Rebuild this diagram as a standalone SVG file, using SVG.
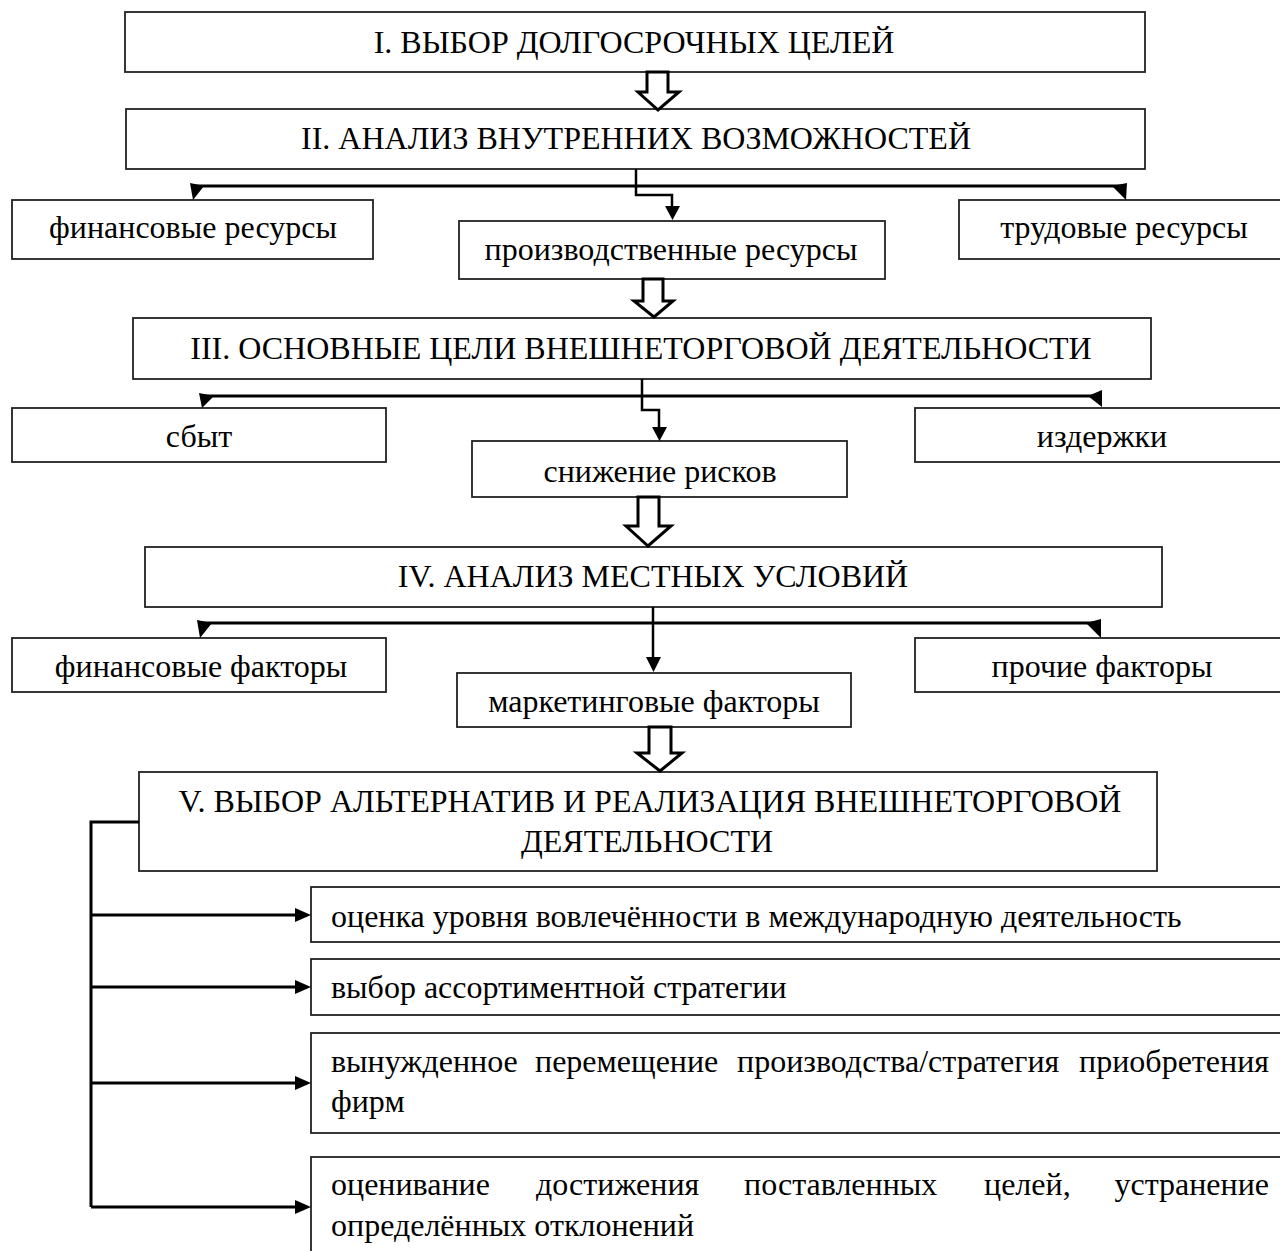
<svg xmlns="http://www.w3.org/2000/svg" width="1280" height="1251" viewBox="0 0 1280 1251">
<style>
.box{fill:#fff;stroke:#222;stroke-width:1.8}
.t{font-family:"Liberation Serif","Times New Roman",serif;font-size:32px;fill:#000}
.c{text-anchor:middle}
.ln{fill:none;stroke:#000;stroke-width:2.5;stroke-linejoin:miter}
.hl{fill:none;stroke:#000;stroke-width:3}
.ah{fill:#000;stroke:none}
.ha{fill:#fff;stroke:#000;stroke-width:3;stroke-linejoin:miter}
</style>
<rect width="1280" height="1251" fill="#fff"/>
<g id="n1"><rect class="box" x="125" y="12" width="1020" height="60"/><text class="t c" x="634" y="53">I. ВЫБОР ДОЛГОСРОЧНЫХ ЦЕЛЕЙ</text></g>
<g id="n2"><rect class="box" x="126" y="109" width="1019" height="60"/><text class="t c" x="636" y="149">II. АНАЛИЗ ВНУТРЕННИХ ВОЗМОЖНОСТЕЙ</text></g>
<g id="n2a"><rect class="box" x="12" y="200" width="361" height="59"/><text class="t c" x="193" y="238">финансовые ресурсы</text></g>
<g id="n2b"><rect class="box" x="459" y="221" width="426" height="58"/><text class="t c" x="671" y="260">производственные ресурсы</text></g>
<g id="n2c"><rect class="box" x="959" y="200" width="340" height="59"/><text class="t c" x="1124" y="238">трудовые ресурсы</text></g>
<g id="n3"><rect class="box" x="133" y="318" width="1018" height="61"/><text class="t c" x="641" y="359">III. ОСНОВНЫЕ ЦЕЛИ ВНЕШНЕТОРГОВОЙ ДЕЯТЕЛЬНОСТИ</text></g>
<g id="n3a"><rect class="box" x="12" y="408" width="374" height="54"/><text class="t c" x="199" y="447">сбыт</text></g>
<g id="n3b"><rect class="box" x="472" y="441" width="375" height="56"/><text class="t c" x="660" y="482">снижение рисков</text></g>
<g id="n3c"><rect class="box" x="915" y="408" width="385" height="54"/><text class="t c" x="1102" y="447">издержки</text></g>
<g id="n4"><rect class="box" x="145" y="547" width="1017" height="60"/><text class="t c" x="653" y="587">IV. АНАЛИЗ МЕСТНЫХ УСЛОВИЙ</text></g>
<g id="n4a"><rect class="box" x="12" y="638" width="374" height="54"/><text class="t c" x="201" y="677">финансовые факторы</text></g>
<g id="n4b"><rect class="box" x="457" y="673" width="394" height="54"/><text class="t c" x="654" y="712">маркетинговые факторы</text></g>
<g id="n4c"><rect class="box" x="915" y="638" width="385" height="54"/><text class="t c" x="1102" y="677">прочие факторы</text></g>
<g id="n5"><rect class="box" x="139" y="772" width="1018" height="99"/><text class="t c" x="650" y="812">V. ВЫБОР АЛЬТЕРНАТИВ И РЕАЛИЗАЦИЯ ВНЕШНЕТОРГОВОЙ</text><text class="t c" x="647" y="852">ДЕЯТЕЛЬНОСТИ</text></g>
<g id="n5a"><rect class="box" x="311" y="887" width="990" height="55"/><text class="t" x="331" y="927">оценка уровня вовлечённости в международную деятельность</text></g>
<g id="n5b"><rect class="box" x="311" y="959" width="990" height="56"/><text class="t" x="331" y="998">выбор ассортиментной стратегии</text></g>
<g id="n5c"><rect class="box" x="311" y="1033" width="990" height="100"/><text class="t" y="1072"><tspan x="331">вынужденное</tspan><tspan x="535">перемещение</tspan><tspan x="737">производства/стратегия</tspan><tspan x="1269" text-anchor="end">приобретения</tspan></text><text class="t" x="331" y="1112">фирм</text></g>
<g id="n5d"><rect class="box" x="311" y="1157" width="990" height="110"/><text class="t" y="1195"><tspan x="331">оценивание</tspan><tspan x="536">достижения</tspan><tspan x="744">поставленных</tspan><tspan x="984">целей,</tspan><tspan x="1269" text-anchor="end">устранение</tspan></text><text class="t" x="331" y="1236">определённых отклонений</text></g>
<g id="connectors">
<polygon class="ha" points="647,72 668,72 668,92 679,92 658,110 638,92 647,92"/>
<path class="ln" d="M636,169 V186"/>
<path class="hl" d="M194,186 H1125"/>
<polygon class="ah" points="190,183 204,186 193,200"/>
<polygon class="ah" points="1112,186 1127,183 1126,200"/>
<path class="ln" d="M636,186 V195 H672 V208"/>
<polygon class="ah" points="665,206 680,206 672.5,220"/>
<polygon class="ha" points="643,279 663,279 663,301 673,301 654,317 634,301 643,301"/>
<path class="ln" d="M642,379 V396"/>
<path class="hl" d="M203,396 H1101"/>
<polygon class="ah" points="199,393 214,396 202,408"/>
<polygon class="ah" points="1088,396 1102,390 1102,407"/>
<path class="ln" d="M642,396 V410 H659 V428"/>
<polygon class="ah" points="652,427 667,427 659.5,441"/>
<polygon class="ha" points="638,497 659,497 659,526 671,526 648,546 626,526 638,526"/>
<path class="ln" d="M653,607 V659"/>
<polygon class="ah" points="646,657 661,657 653.5,672"/>
<path class="hl" d="M201,623 H1100"/>
<polygon class="ah" points="197,620 212,623 200,638"/>
<polygon class="ah" points="1086,623 1101,619 1101,638"/>
<polygon class="ha" points="649,727 671,727 671,753 682,753 660,771 637,753 649,753"/>
<path class="hl" d="M139,822 H91 V1207"/>
<path class="hl" d="M91,915 H297 M91,987 H297 M91,1083 H297 M91,1207 H297"/>
<polygon class="ah" points="295,908 311,915 295,922"/>
<polygon class="ah" points="295,980 311,987 295,994"/>
<polygon class="ah" points="295,1076 311,1083 295,1090"/>
<polygon class="ah" points="295,1200 311,1207 295,1214"/>
</g>
</svg>
